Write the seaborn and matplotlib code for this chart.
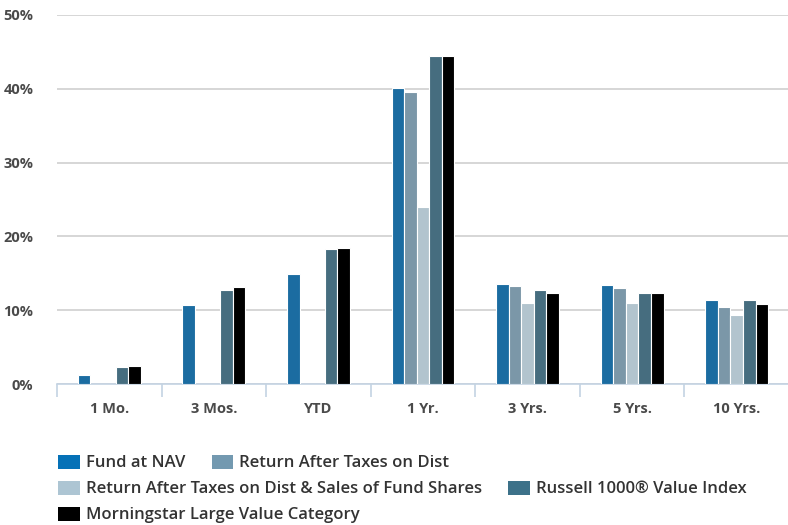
import matplotlib
matplotlib.use("Agg")
import matplotlib.pyplot as plt
from matplotlib.patches import Patch
from matplotlib.ticker import FixedLocator, FuncFormatter
import numpy as np
import pandas as pd
import seaborn as sns

periods = ["1 Mo.", "3 Mos.", "YTD", "1 Yr.", "3 Yrs.", "5 Yrs.", "10 Yrs."]
series = [
    "Fund at NAV",
    "Return After Taxes on Dist",
    "Return After Taxes on Dist & Sales of Fund Shares",
    "Russell 1000\u00ae Value Index",
    "Morningstar Large Value Category",
]
fund_nav = [1.2, 10.7, 14.9, 40.1, 13.6, 13.4, 11.4]
after_tax_dist = [None, None, None, 39.6, 13.3, 13.0, 10.4]
after_tax_sales = [None, None, None, 24.0, 11.0, 11.0, 9.3]
russell_value = [2.3, 12.7, 18.3, 44.4, 12.8, 12.3, 11.4]
morningstar_lv = [2.5, 13.1, 18.4, 44.5, 12.3, 12.3, 10.9]
y_ticks = [0, 10, 20, 30, 40, 50]

colors = ["#0571b7", "#7399b0", "#adc5d3", "#3c7189", "#000000"]

rows = []
for name, vals in zip(series, [fund_nav, after_tax_dist, after_tax_sales,
                               russell_value, morningstar_lv]):
    for p, v in zip(periods, vals):
        if v is not None:
            rows.append({"period": p, "series": name, "value": v})
df = pd.DataFrame(rows)

sns.set_theme(style="white")
plt.rcParams["font.family"] = ["Open Sans", "DejaVu Sans"]

fig = plt.figure(figsize=(7.88, 5.25), dpi=100)
ax = fig.add_axes([57 / 788, 1 - 384 / 525, (789 - 57) / 788, (384 - 15) / 525])

sns.barplot(data=df, x="period", y="value", hue="series", order=periods,
            hue_order=series, palette=colors, width=0.6, dodge=True,
            edgecolor="white", linewidth=0.8, errorbar=None, ax=ax,
            legend=False, zorder=3)

ax.set_xlim(-0.5, len(periods) - 0.5)
ax.set_ylim(0, 50)
ax.set_yticks(y_ticks)
ax.yaxis.set_major_formatter(FuncFormatter(lambda v, _: f"{v:.0f}%"))
ax.grid(axis="y", color="#d0d0d0", linewidth=1.2, zorder=0)
ax.set_axisbelow(True)
ax.set_xlabel("")
ax.set_ylabel("")

for s in ["top", "right", "left"]:
    ax.spines[s].set_visible(False)
ax.spines["bottom"].set_color("#c4d3e3")
ax.spines["bottom"].set_linewidth(1.2)

ax.tick_params(axis="y", length=0, pad=17, labelsize=10.5, labelcolor="#4a4a4a")
ax.tick_params(axis="x", which="major", length=0, pad=13, labelsize=10.5,
               labelcolor="#4a4a4a")
ax.xaxis.set_minor_locator(FixedLocator(np.arange(-0.5, len(periods), 1.0)))
ax.tick_params(axis="x", which="minor", bottom=True, length=9, width=1.2,
               color="#c4d3e3", direction="out")
for lbl in ax.get_xticklabels() + ax.get_yticklabels():
    lbl.set_fontweight("bold")

handles = [Patch(facecolor=c, edgecolor="none") for c in colors]
legend_rows = [
    ([handles[0], handles[1]], [series[0], series[1]], 463),
    ([handles[2], handles[3]], [series[2], series[3]], 489),
    ([handles[4]], [series[4]], 515),
]
for hs, labels, ypix in legend_rows:
    leg = fig.legend(hs, labels, loc="center left", ncol=len(hs),
                     bbox_to_anchor=(58 / 788, 1 - ypix / 525), frameon=False,
                     handlelength=1.3, handleheight=0.95, handletextpad=0.36,
                     columnspacing=1.6, borderaxespad=0, borderpad=0,
                     prop={"size": 12, "weight": "semibold"})
    for t in leg.get_texts():
        t.set_color("#333333")

fig.savefig("out.png", dpi=100)
